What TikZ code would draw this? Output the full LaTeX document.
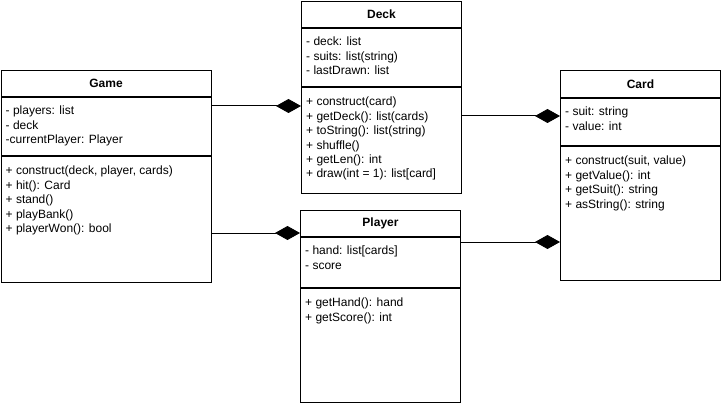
\documentclass[tikz,border=0pt]{standalone}
\usepackage{fontspec}
\setmainfont{Liberation Sans}
\usetikzlibrary{arrows.meta}
\begin{document}
\begin{tikzpicture}[x=1pt,y=-1pt,
  font=\fontsize{12}{14.4}\selectfont,
  classpart/.style={draw,line width=1pt,anchor=north west,inner sep=0pt,minimum width=160pt},
  classname/.style={classpart,font=\fontsize{12}{14.4}\selectfont\bfseries},
  members/.style={anchor=north west,align=left,inner sep=0pt},
  has/.style={line width=1pt,-{Diamond[length=25pt,width=14pt]}}]
  \useasboundingbox (0,0) rectangle (721,404);
  \begin{scope}[shift={(0.5,70)}]
    \node[classname,minimum width=210pt,minimum height=26pt] (gametitle) at (0,0) {Game};
    \node[classpart,minimum width=210pt,minimum height=58pt] (gameattr) at (gametitle.south west) {};
    \node[classpart,minimum width=210pt,minimum height=126pt] (gamemeth) at (gameattr.south west) {};
    \node[members] (gameattrtext) at ([shift={(5pt,-9pt)}]gameattr.north west)
      {- players: list\\- deck\\-currentPlayer: Player};
    \node[members] (gamemethtext) at ([shift={(5pt,-10pt)}]gamemeth.north west)
      {+ construct(deck, player, cards)\\+ hit(): Card\\+ stand()\\+ playBank()\\+ playerWon(): bool};
  \end{scope}
  \begin{scope}[shift={(301,1)}]
    \node[classname,minimum height=26pt] (decktitle) at (0,0) {Deck};
    \node[classpart,minimum height=58pt] (deckattr) at (decktitle.south west) {};
    \node[classpart,minimum height=106pt] (deckmeth) at (deckattr.south west) {};
    \node[members] (deckattrtext) at ([shift={(5pt,-9pt)}]deckattr.north west)
      {- deck: list\\- suits: list(string)\\- lastDrawn: list};
    \node[members] (deckmethtext) at ([shift={(5pt,-10pt)}]deckmeth.north west)
      {+ construct(card)\\+ getDeck(): list(cards)\\+ toString(): list(string)\\+ shuffle()\\+ getLen(): int\\+ draw(int = 1): list[card]};
  \end{scope}
  \begin{scope}[shift={(300,210)}]
    \node[classname,minimum height=26pt] (playertitle) at (0,0) {Player};
    \node[classpart,minimum height=50pt] (playerattr) at (playertitle.south west) {};
    \node[classpart,minimum height=114pt] (playermeth) at (playerattr.south west) {};
    \node[members] (playerattrtext) at ([shift={(5pt,-9pt)}]playerattr.north west)
      {- hand: list[cards]\\- score};
    \node[members] (playermethtext) at ([shift={(5pt,-10pt)}]playermeth.north west)
      {+ getHand(): hand\\+ getScore(): int};
  \end{scope}
  \begin{scope}[shift={(560,70)}]
    \node[classname,minimum height=27pt] (cardtitle) at (0,0) {Card};
    \node[classpart,minimum height=47pt] (cardattr) at (cardtitle.south west) {};
    \node[classpart,minimum height=134pt] (cardmeth) at (cardattr.south west) {};
    \node[members] (cardattrtext) at ([shift={(5pt,-9pt)}]cardattr.north west)
      {- suit: string\\- value: int};
    \node[members] (cardmethtext) at ([shift={(5pt,-10pt)}]cardmeth.north west)
      {+ construct(suit, value)\\+ getValue(): int\\+ getSuit(): string\\+ asString(): string};
  \end{scope}
  \draw[has] ([yshift=-9pt]gameattr.north east) coordinate (gamedeck) -- (gamedeck -| deckmeth.west);
  \draw[has] ([yshift=-77pt]gamemeth.north east) coordinate (gameplayer) -- (gameplayer -| playertitle.west);
  \draw[has] ([yshift=-29pt]deckmeth.north east) coordinate (deckcard) -- (deckcard -| cardattr.west);
  \draw[has] ([yshift=-5pt]playerattr.north east) coordinate (playercard) -- (playercard -| cardmeth.west);
\end{tikzpicture}
\end{document}
